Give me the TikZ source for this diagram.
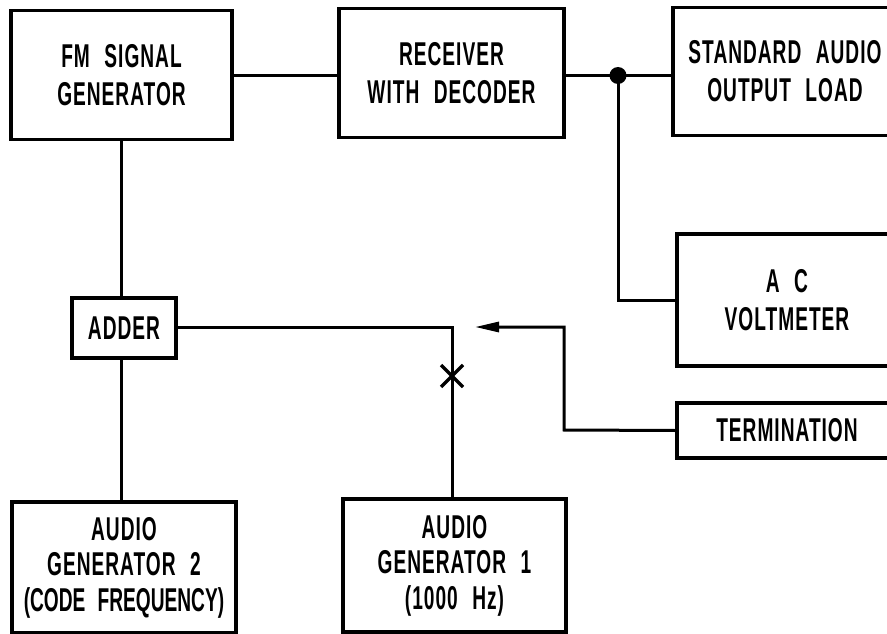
\documentclass[tikz,border=0pt]{standalone}
\usepackage{fontspec}
\setmainfont[FakeStretch=0.58,WordSpace=2.3,LetterSpace=3,BoldFont={Liberation Sans Bold}]{Liberation Sans}
\usetikzlibrary{arrows.meta,calc}
\begin{document}
\begin{tikzpicture}[x=1pt,y=-1pt,
  blk/.style={draw,line width=3.4pt,inner sep=0pt,align=center,
    font=\fontsize{33}{38}\selectfont\bfseries},
  blkthree/.style={blk,font=\fontsize{33}{35.5}\selectfont\bfseries},
  wire/.style={line width=3pt}]
\clip (0,0) rectangle (887,634);
\fill[white] (0,0) rectangle (887,634);
\node[blk,minimum width=221pt,minimum height=129pt] (fm) at (121.5,75) {FM SIGNAL\\GENERATOR};
\node[blk,minimum width=225pt,minimum height=129pt] (rx) at (451.5,73) {RECEIVER\\WITH DECODER};
\node[blk,minimum width=224pt,minimum height=128pt] (std) at (785,71.5) {STANDARD AUDIO\\OUTPUT LOAD};
\node[blk,minimum width=220pt,minimum height=132pt] (vm) at (787,300) {A C\\VOLTMETER};
\node[blk,minimum width=220pt,minimum height=55pt] (term) at (787,430.5) {TERMINATION};
\node[blk,minimum width=104pt,minimum height=60pt] (add) at (124,328) {ADDER};
\node[blkthree,minimum width=224pt,minimum height=131pt] (g2) at (124,567.5) {AUDIO\\GENERATOR 2\\{\addfontfeatures{LetterSpace=0}(CODE FREQUENCY)}};
\node[blkthree,minimum width=223pt,minimum height=133pt] (g1) at (454.5,565.5) {AUDIO\\GENERATOR 1\\(1000 Hz)};
\coordinate (dot) at (618,75.5);
\coordinate (sw) at (452,327);
\coordinate (xm) at (452,376);
\coordinate (tip) at (475,327);
\coordinate (bend) at (564,430);
\draw[wire] (fm.east |- dot) -- (rx.west |- dot);
\draw[wire] (rx.east |- dot) -- (std.west |- dot);
\fill (dot) circle (8.5pt);
\draw[wire] (dot) |- (vm.west);
\draw[wire] (121,139) -- (add.north -| 121,0);
\draw[wire] (add.south -| 121,0) -- (g2.north -| 121,0);
\draw[wire] (g1.north -| sw) -- (sw) -- (add.east |- sw);
\draw[line width=3.2pt] ($(xm)+(-11,-11)$) -- ($(xm)+(11,11)$);
\draw[line width=3.2pt] ($(xm)+(-11,11)$) -- ($(xm)+(11,-11)$);
\draw[wire,-{Triangle[length=24pt,width=10pt]}] (term.west) -- (bend) |- (tip);
\end{tikzpicture}
\end{document}
